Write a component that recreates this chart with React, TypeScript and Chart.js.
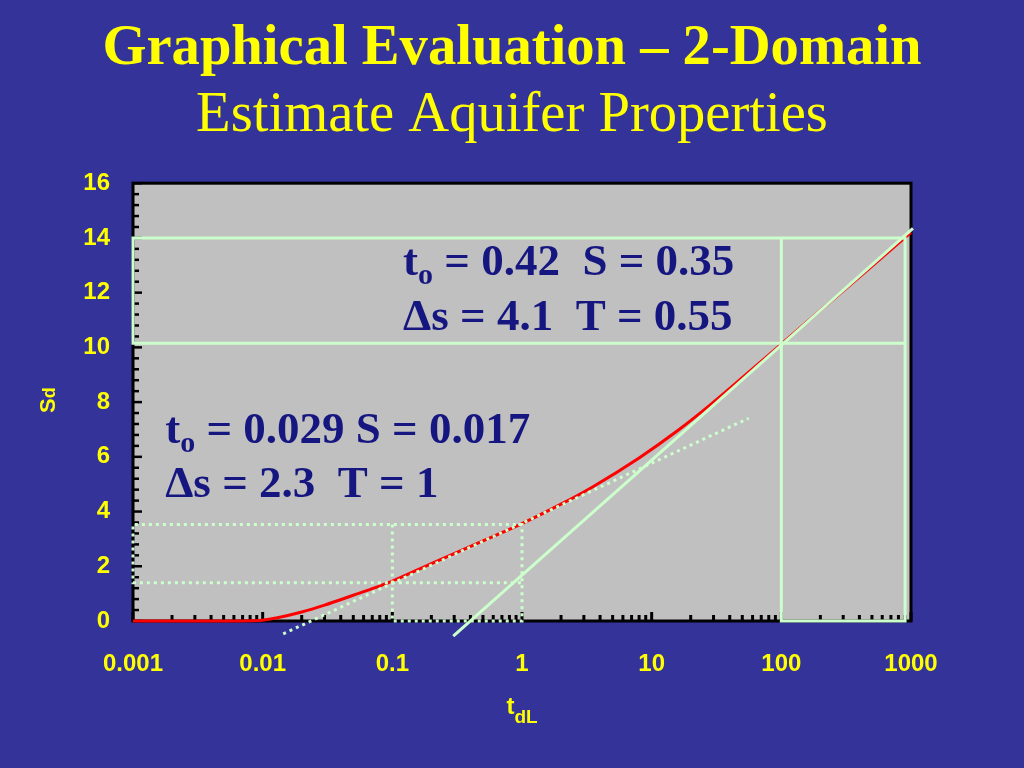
import React, { useEffect, useRef } from 'react';
import { Chart, registerables } from 'chart.js';

Chart.register(...registerables);

// ---------- text ----------
const titleText = 'Graphical Evaluation – 2-Domain';
const subtitleText = 'Estimate Aquifer Properties';

// ---------- axes ----------
const xTickValues = [0.001, 0.01, 0.1, 1, 10, 100, 1000];
const xTickLabels = ['0.001', '0.01', '0.1', '1', '10', '100', '1000'];
const yMin = 0;
const yMax = 16;
const yStep = 2;

// ---------- type curve (s_d vs t_dL) ----------
const curveT = [0.001, 0.002, 0.005, 0.008, 0.01, 0.013, 0.02, 0.03, 0.05, 0.07, 0.1, 0.2, 0.5, 1, 2, 3.5, 8, 16, 28, 50, 100, 200, 500, 1000];
const curveS = [0, 0, 0, 0.01, 0.03, 0.12, 0.33, 0.58, 0.94, 1.18, 1.46, 2.1, 2.93, 3.56, 4.27, 4.9, 5.96, 6.97, 7.88, 8.89, 10.12, 11.35, 12.97, 14.2];

// ---------- fitted straight lines ----------
const earlyLineT = [0.0144, 56];
const earlyLineS = [-0.47, 7.41];
const lateLineT = [0.295, 1035];
const lateLineS = [-0.55, 14.35];

// ---------- construction boxes ----------
const solidBoxT = [100, 100, 900, 900, 0.001, 0.001, 900];
const solidBoxS = [14, 0, 0, 14, 14, 10.15, 10.15];
const dottedBoxT = [0.1, 0.1, 1, 1, 0.001, 0.001, 1];
const dottedBoxS = [3.53, 0, 0, 3.53, 3.53, 1.4, 1.4];

// ---------- annotations: [text, isSubscript] runs ----------
const lateNoteLines: [string, boolean][][] = [
  [['t', false], ['o', true], [' = 0.42  S = 0.35', false]],
  [['Δs = 4.1  T = 0.55', false]],
];
const earlyNoteLines: [string, boolean][][] = [
  [['t', false], ['o', true], [' = 0.029 S = 0.017', false]],
  [['Δs = 2.3  T = 1', false]],
];

const BG = '#333399';
const PLOT_BG = '#c0c0c0';
const YELLOW = '#ffff00';
const GREEN = '#ccffcc';
const RED = '#ff0000';
const NAVY = '#161680';
const SERIF = '"Liberation Serif", "Times New Roman", serif';
const SANS = '"Liberation Sans", Arial, sans-serif';

const pts = (xs: number[], ys: number[]) => xs.map((x, i) => ({ x, y: ys[i] }));

function drawRuns(ctx: CanvasRenderingContext2D, runs: [string, boolean][], x: number, y: number) {
  let cx = x;
  for (const [text, sub] of runs) {
    ctx.font = sub ? `bold 30px ${SERIF}` : `bold 45px ${SERIF}`;
    ctx.fillText(text, cx, sub ? y + 9 : y);
    cx += ctx.measureText(text).width;
  }
}

const decorPlugin = {
  id: 'decor',
  beforeDraw(chart: any) {
    const { ctx, chartArea: a } = chart;
    ctx.save();
    ctx.fillStyle = BG;
    ctx.fillRect(0, 0, chart.width, chart.height);
    ctx.fillStyle = PLOT_BG;
    ctx.fillRect(a.left, a.top, a.right - a.left, a.bottom - a.top);
    ctx.restore();
  },
  beforeDatasetsDraw(chart: any) {
    const { ctx, chartArea: a, scales } = chart;
    const xs = scales.x;
    const ys = scales.y;
    ctx.save();
    ctx.strokeStyle = '#000';
    // y ticks (inward)
    ctx.lineWidth = 2.5;
    for (let i = 0; i <= 40; i++) {
      const v = (i * (yMax - yMin)) / 40;
      const py = ys.getPixelForValue(v);
      const len = i % 5 === 0 ? 9 : 6;
      ctx.beginPath();
      ctx.moveTo(a.left, py);
      ctx.lineTo(a.left + len, py);
      ctx.stroke();
    }
    // x ticks (inward, log minor)
    ctx.lineWidth = 3;
    for (let d = 0; d < xTickValues.length; d++) {
      const dec = xTickValues[d];
      for (let k = 1; k <= 9; k++) {
        const v = dec * k;
        if (v > xTickValues[xTickValues.length - 1] + 1e-9) break;
        const px = xs.getPixelForValue(v);
        const len = k === 1 ? 9 : 6;
        ctx.beginPath();
        ctx.moveTo(px, a.bottom);
        ctx.lineTo(px, a.bottom - len);
        ctx.stroke();
      }
    }
    // frame
    ctx.lineWidth = 3;
    ctx.strokeRect(a.left, a.top, a.right - a.left, a.bottom - a.top);
    ctx.restore();
  },
  afterDatasetsDraw(chart: any) {
    const { ctx, chartArea: a, scales } = chart;
    const xs = scales.x;
    const ys = scales.y;
    ctx.save();
    ctx.fillStyle = NAVY;
    ctx.textBaseline = 'alphabetic';
    ctx.textAlign = 'left';
    const lx = xs.getPixelForValue(0.121);
    const ly = ys.getPixelForValue(12.64);
    lateNoteLines.forEach((line, i) => drawRuns(ctx, line, lx, ly + i * 55));
    const ex = xs.getPixelForValue(0.00177);
    const ey = ys.getPixelForValue(6.5);
    earlyNoteLines.forEach((line, i) => drawRuns(ctx, line, ex, ey + i * 54));

    // axis titles
    ctx.fillStyle = YELLOW;
    // x: t_dL
    ctx.font = `bold 24px ${SANS}`;
    const wT = ctx.measureText('t').width;
    ctx.font = `bold 19px ${SANS}`;
    const wDL = ctx.measureText('dL').width;
    const cx = (a.left + a.right) / 2;
    const startX = cx - (wT + wDL) / 2;
    ctx.font = `bold 24px ${SANS}`;
    ctx.fillText('t', startX, a.bottom + 93);
    ctx.font = `bold 19px ${SANS}`;
    ctx.fillText('dL', startX + wT, a.bottom + 102);

    // y: S_d rotated
    ctx.save();
    const cy = (a.top + a.bottom) / 2 - 2;
    ctx.translate(a.left - 78, cy);
    ctx.rotate(-Math.PI / 2);
    ctx.font = `bold 22px ${SANS}`;
    const wS = ctx.measureText('S').width;
    ctx.font = `bold 18px ${SANS}`;
    const wd = ctx.measureText('d').width;
    const sx = -(wS + wd) / 2;
    ctx.font = `bold 22px ${SANS}`;
    ctx.fillText('S', sx, 0);
    ctx.font = `bold 18px ${SANS}`;
    ctx.fillText('d', sx + wS, 0);
    ctx.restore();

    ctx.restore();
  },
};

export default function App() {
  const ref = useRef<HTMLCanvasElement>(null);
  useEffect(() => {
    const canvas = ref.current;
    if (!canvas) return;
    const lineBase = { pointRadius: 0, pointHoverRadius: 0, clip: false as any, borderCapStyle: 'butt' as const, fill: false };
    const chart = new Chart(canvas, {
      type: 'line',
      data: {
        datasets: [
          { ...lineBase, label: 'solid box', data: pts(solidBoxT, solidBoxS), borderColor: GREEN, borderWidth: 3, order: 1 },
          { ...lineBase, label: 'dotted box', data: pts(dottedBoxT, dottedBoxS), borderColor: GREEN, borderWidth: 3, borderDash: [3, 4], order: 1 },
          { ...lineBase, label: 'late line', data: pts(lateLineT, lateLineS), borderColor: GREEN, borderWidth: 3, order: 1 },
          { ...lineBase, label: 'early line', data: pts(earlyLineT, earlyLineS), borderColor: GREEN, borderWidth: 3, borderDash: [3, 4], order: 1 },
          { ...lineBase, label: 'type curve', data: pts(curveT, curveS), borderColor: RED, borderWidth: 3, cubicInterpolationMode: 'monotone', order: 5 },
        ],
      },
      options: {
        animation: false,
        responsive: false,
        maintainAspectRatio: false,
        devicePixelRatio: 1,
        layout: { padding: 0 },
        plugins: {
          legend: { display: false },
          tooltip: { enabled: false },
          title: {
            display: true,
            text: titleText,
            color: YELLOW,
            font: { family: SERIF, size: 56.6, weight: 'bold', lineHeight: 1 },
            padding: { top: 21, bottom: 0 },
          },
          subtitle: {
            display: true,
            text: subtitleText,
            color: YELLOW,
            font: { family: SERIF, size: 56.6, weight: 'normal', lineHeight: 1 },
            padding: { top: 10, bottom: 39 },
          },
        },
        scales: {
          x: {
            type: 'logarithmic',
            min: xTickValues[0],
            max: xTickValues[xTickValues.length - 1],
            afterBuildTicks: (s: any) => {
              s.ticks = xTickValues.map((v) => ({ value: v }));
            },
            afterFit: (s: any) => {
              s.height = 147;
            },
            grid: { display: false, drawTicks: false },
            border: { display: false },
            ticks: {
              autoSkip: false,
              maxRotation: 0,
              minRotation: 0,
              padding: 29,
              color: YELLOW,
              font: { family: SANS, size: 24, weight: 'bold' },
              callback: (_v: any, i: number) => xTickLabels[i],
            },
          },
          y: {
            type: 'linear',
            min: yMin,
            max: yMax,
            afterFit: (s: any) => {
              s.width = 133;
            },
            grid: { display: false, drawTicks: false },
            border: { display: false },
            ticks: {
              stepSize: yStep,
              padding: 23,
              color: YELLOW,
              font: { family: SANS, size: 24, weight: 'bold' },
            },
          },
          yRight: {
            type: 'linear',
            position: 'right',
            afterFit: (s: any) => {
              s.width = 113;
            },
            grid: { display: false, drawTicks: false },
            border: { display: false },
            ticks: { display: false },
          },
        },
      },
      plugins: [decorPlugin],
    } as any);
    return () => chart.destroy();
  }, []);
  return (
    <div style={{ position: 'fixed', left: 0, top: 0, width: 1024, height: 768, background: BG }}>
      <canvas ref={ref} width={1024} height={768} style={{ display: 'block' }} />
    </div>
  );
}
